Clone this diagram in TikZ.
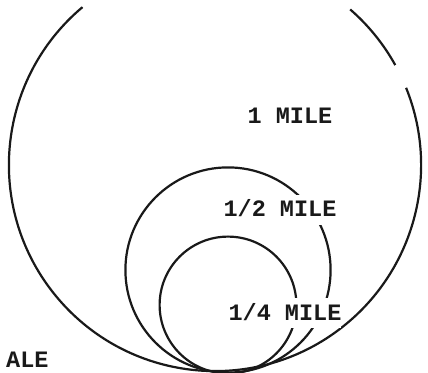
\documentclass[tikz,border=0pt]{standalone}
\usepackage{fontspec}
\setmonofont{Liberation Mono}
\usetikzlibrary{positioning}
\tikzset{
  ring/.style={line width=2.2pt,black!90},
  milelabel/.style={font=\ttfamily\bfseries\fontsize{23.5}{26}\selectfont,
                    black!90,fill=white,inner xsep=0pt,inner ysep=8pt,
                    text height=14pt,text depth=0pt}
}

\begin{document}
\begin{tikzpicture}[x=1pt,y=1pt]
  \useasboundingbox (0,0) rectangle (428,372);

  % Kreis 1 Meile (oben abgeschnitten, rechts kleine Luecke)
  \coordinate (cOne) at (215,207);
  \draw[ring] (cOne) ++(130:206.1pt) arc[start angle=130,end angle=382,radius=206.1pt];
  \draw[ring] (cOne) ++(29:206.1pt) arc[start angle=29,end angle=49,radius=206.1pt];

  % Kreis 1/2 Meile
  \coordinate (cHalf) at (228,102);
  \draw[ring] (cHalf) circle[radius=102.6pt];

  % Kreis 1/4 Meile
  \coordinate (cQuarter) at (228,67);
  \draw[ring] (cQuarter) circle[radius=68.4pt];

  % Beschriftungen
  \node[milelabel] (mileOne) at (290,255){1 MILE};
  \node[milelabel] (mileHalf) at (280,162){1/2 MILE};
  \node[milelabel] (mileQuarter) at (285,59){1/4 MILE};
  \node[milelabel,anchor=west,fill=none,inner ysep=0pt] (scaleText) at (6,12){ALE};
\end{tikzpicture}
\end{document}
